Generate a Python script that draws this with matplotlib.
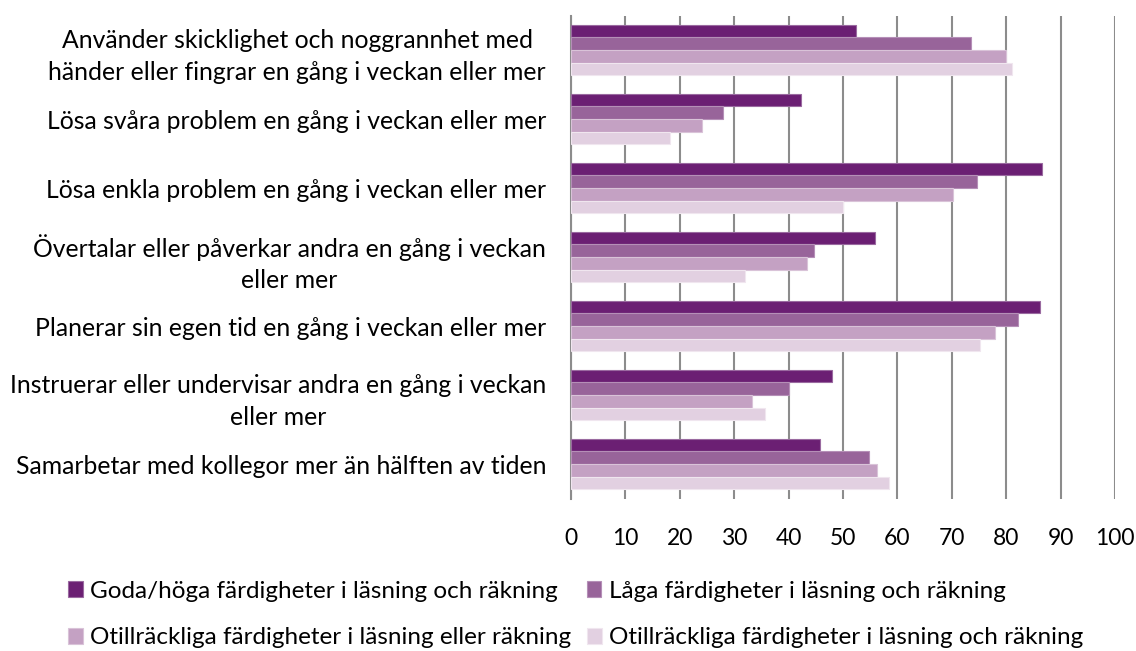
import matplotlib
matplotlib.use("Agg")
import matplotlib.pyplot as plt
import numpy as np

plt.rcParams['font.family'] = ['Lato', 'DejaVu Sans']

categories = [
    "Använder skicklighet och noggrannhet med\nhänder eller fingrar en gång i veckan eller mer",
    "Lösa svåra problem en gång i veckan eller mer",
    "Lösa enkla problem en gång i veckan eller mer",
    "Övertalar eller påverkar andra en gång i veckan\neller mer",
    "Planerar sin egen tid en gång i veckan eller mer",
    "Instruerar eller undervisar andra en gång i veckan\neller mer",
    "Samarbetar med kollegor mer än hälften av tiden",
]
series_names = [
    "Goda/höga färdigheter i läsning och räkning",
    "Låga färdigheter i läsning och räkning",
    "Otillräckliga färdigheter i läsning eller räkning",
    "Otillräckliga färdigheter i läsning och räkning",
]
goda = [52.3, 42.2, 86.6, 55.9, 86.2, 48.0, 45.8]
laga = [73.5, 28.0, 74.7, 44.7, 82.1, 40.1, 54.7]
otill_eller = [79.9, 24.0, 70.2, 43.3, 77.9, 33.3, 56.3]
otill_och = [81.0, 18.2, 50.0, 32.0, 75.2, 35.6, 58.4]
xticks = [0, 10, 20, 30, 40, 50, 60, 70, 80, 90, 100]

colors = ["#6B1F73", "#98649A", "#C4A1C3", "#E2D0E1"]
edges = ["#9A6AA0", "#B58FB7", "#D9C3D8", "#F0E6EF"]

W, H = 1136, 651
fig = plt.figure(figsize=(W / 100, H / 100), dpi=100)
ax = fig.add_axes([571 / W, 1 - 498.5 / H, 544 / W, 483 / H])

n = len(categories)
y = np.arange(n)
bh = 0.182
data = [goda, laga, otill_eller, otill_och]
handles = []
for i, vals in enumerate(data):
    offs = (i - 1.5) * bh
    b = ax.barh(y + offs, vals, height=bh, color=colors[i], edgecolor=edges[i],
                linewidth=0.8, zorder=3, label=series_names[i])
    handles.append(b)

FS = 17.5
ax.set_ylim(n - 0.5, -0.5)
ax.set_xlim(0, 100)
ax.set_xticks(xticks)
ax.set_xticklabels([str(t) for t in xticks], fontsize=16.5, color="#000000")
ax.tick_params(axis='x', length=0, pad=21)
ax.set_yticks(y)
ax.set_yticklabels(categories, fontsize=17.8, ha='right', multialignment='center',
                   linespacing=1.45)
ax.tick_params(axis='y', length=0, pad=18)
ax.grid(axis='x', color="#8C8C8C", linewidth=1.5, zorder=0)
for s in ['top', 'right', 'bottom']:
    ax.spines[s].set_visible(False)
ax.spines['left'].set_color("#8C8C8C")
ax.spines['left'].set_linewidth(1.5)

leg_kw = dict(frameon=False, fontsize=FS, handlelength=0.6, handleheight=0.6,
              handletextpad=0.3, borderaxespad=0, borderpad=0, ncol=2)
leg1 = fig.legend(handles[:2], series_names[:2], loc='center left',
                  bbox_to_anchor=(68 / W, 1 - 591 / H), columnspacing=1.2, **leg_kw)
leg2 = fig.legend(handles[2:], series_names[2:], loc='center left',
                  bbox_to_anchor=(68 / W, 1 - 638 / H), columnspacing=0.66, **leg_kw)

fig.savefig("out.png", dpi=100)
